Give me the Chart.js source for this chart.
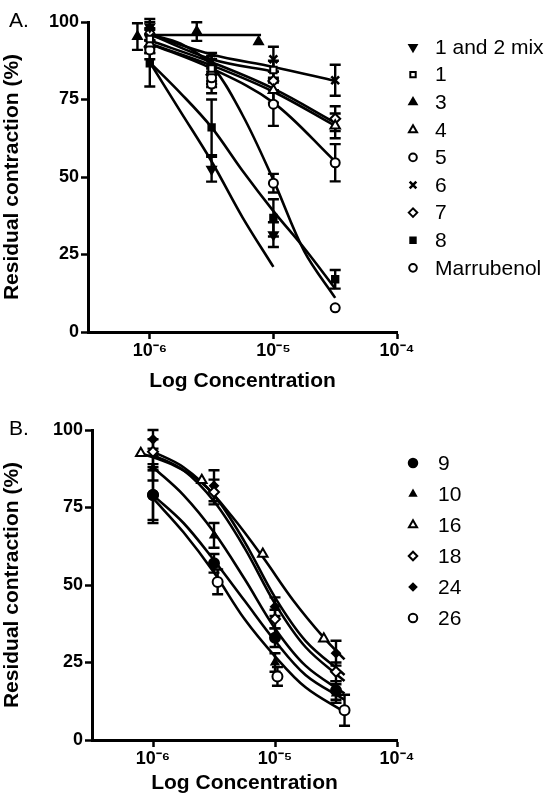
<!DOCTYPE html>
<html><head><meta charset="utf-8">
<script src="https://cdn.jsdelivr.net/npm/chart.js@4/dist/chart.umd.min.js"></script>
<style>
html,body{margin:0;padding:0;background:#fff;width:555px;height:802px;overflow:hidden}
.wrap{position:absolute;left:0;width:555px}
#wa{top:0;height:400px} #wb{top:400px;height:402px}
.panel{position:absolute;left:9px;font:21px "Liberation Sans",Arial,sans-serif;color:#000}
</style></head><body>
<div class="wrap" id="wa"><canvas id="ca" width="555" height="400"></canvas></div>
<div class="wrap" id="wb"><canvas id="cb" width="555" height="402"></canvas></div>
<div class="panel" style="top:8px">A.</div>
<div class="panel" style="top:416px">B.</div>
<script>
// ---------- shared ticks ----------
const xTickValues = [-6, -5, -4];
const xTickLabels = ['10\u207B\u2076', '10\u207B\u2075', '10\u207B\u2074'];
const yTickValues = [0, 25, 50, 75, 100];

// ---------- Panel A: data points (log10 concentration, % residual contraction, SEM) ----------
const legendA = ['1 and 2 mix', '1', '3', '4', '5', '6', '7', '8', 'Marrubenol'];
const xA = [-6, -5.5, -5, -4.5];
const mixX = [-6, -5.5, -5];
const mixY = [98.5, 52.5, 31.4];
const mixErr = [2.5, 4, 4];
const c1X = [-6, -5.5, -5];
const c1Y = [94.5, 85, 84.5];
const c1Err = [3, 4, 3];
const c3X = [-6.1, -5.62, -5.12];
const c3Y = [95.3, 96.9, 93.6];
const c3Err = [4.3, 3, 0];
const c4Y = [93, 84, 78, 66.5];
const c4Err = [3, 4, 4, 4];
const c5Y = [91, 82, 73.5, 54.6];
const c5Err = [3, 3, 7, 6];
const c6Y = [95, 87, 88, 81.2];
const c6Err = [3, 3, 4, 5];
const c7Y = [92, 83, 81, 68.8];
const c7Err = [2, 3, 3, 4];
const c8Y = [86.7, 66, 36.8, 17];
const c8Err = [7.5, 9, 6, 3];
const marrY = [96, 80, 48, 7.8];
const marrErr = [4, 3, 3, 0];

// Panel A fitted curves
const fitXA = [-6, -5.75, -5.5, -5.25, -5, -4.75, -4.5];
const mixFitX = [-6, -5.75, -5.5, -5.25, -5];
const mixFitY = [87, 71, 55, 37, 21];
const c1FitX = [-6, -5.5, -5];
const c1FitY = [96, 88, 84];
const c3FitX = [-6, -5.1];
const c3FitY = [95.8, 95.8];
const c4FitY = [94, 87, 78.5, 67.5];
const c5FitY = [93, 85, 74, 55];
const c6FitY = [96, 89.5, 85.5, 81];
const c7FitY = [93, 86, 77.5, 66.5];
const c8FitY = [87, 77, 66, 52, 39, 27, 14];
const marrFitY = [96, 93, 86, 70, 49, 26, 11];

// ---------- Panel B ----------
const legendB = ['9', '10', '16', '18', '24', '26'];
const xB = [-6, -5.5, -5, -4.5];
const s9Y = [79, 57, 33, 16];
const s9Err = [9, 3, 3, 3];
const s10Y = [87.7, 66, 25, 15];
const s10Err = [4, 4, 3, 3];
const s16X = [-6.1, -5.6, -5.1, -4.6];
const s16Y = [92.5, 83.8, 60, 32.7];
const s16Err = [0, 0, 0, 0];
const s18Y = [93, 80, 39, 22];
const s18Err = [4, 4, 3, 3];
const s24Y = [97, 82, 43, 28];
const s24Err = [3, 5, 3, 4];
const s26X = [-6, -5.47, -4.98, -4.43];
const s26Y = [79, 51, 20.5, 9.6];
const s26Err = [8, 4, 3, 5];

const fitXB = [-6, -5.75, -5.5, -5.25, -5, -4.75, -4.43];
const s9FitY = [79, 70, 58, 45, 32, 21, 13];
const s10FitY = [88, 79, 67, 52, 36, 24, 15];
const s16FitX = [-6.1, -5.85, -5.6, -5.35, -5.1, -4.85, -4.6, -4.43];
const s16FitY = [92.5, 89, 83, 72, 59, 45, 33, 26];
const s18FitY = [93, 88, 79, 64, 46, 32, 21];
const s24FitY = [92, 87, 77, 62, 44, 30, 19];
const s26FitY = [78, 67, 54, 39, 27, 17, 9];

// ---------- helpers ----------
const FONT = '"Liberation Sans", Arial, sans-serif';
const pts = (xs, ys) => ys.map((y, i) => ({x: xs[i], y: y}));

function marker(label, xs, ys, errs, style) {
  return Object.assign({
    type: 'scatter', label: label, data: pts(xs, ys), errs: errs, showLine: false,
    borderColor: '#000', pointBorderColor: '#000', pointBorderWidth: 2,
    pointRadius: 4.5, pointHoverRadius: 4.5, order: 0, isMarker: true
  }, style);
}
function fit(xs, ys) {
  return {
    type: 'scatter', data: pts(xs, ys), showLine: true, fill: false,
    borderColor: '#000', borderWidth: 2.6, pointRadius: 0, pointHoverRadius: 0,
    tension: 0.35, order: 1, isFit: true
  };
}

const errorBars = {
  id: 'errorBars',
  beforeDatasetsDraw(chart) {
    const ctx = chart.ctx, xs = chart.scales.x, ys = chart.scales.y;
    ctx.save();
    ctx.strokeStyle = '#000';
    ctx.lineWidth = 2.4;
    chart.data.datasets.forEach(ds => {
      if (!ds.errs) return;
      ds.data.forEach((p, i) => {
        const e = ds.errs[i];
        if (!e) return;
        const px = xs.getPixelForValue(p.x);
        const y1 = ys.getPixelForValue(p.y + e), y2 = ys.getPixelForValue(p.y - e);
        ctx.beginPath();
        ctx.moveTo(px, y1); ctx.lineTo(px, y2);
        ctx.moveTo(px - 5.5, y1); ctx.lineTo(px + 5.5, y1);
        ctx.moveTo(px - 5.5, y2); ctx.lineTo(px + 5.5, y2);
        ctx.stroke();
      });
    });
    ctx.restore();
  }
};

const sideLegend = {
  id: 'sideLegend',
  afterDraw(chart, args, opts) {
    const ctx = chart.ctx;
    const items = chart.data.datasets.filter(d => d.isMarker);
    ctx.save();
    ctx.font = opts.fontSize + 'px ' + FONT;
    ctx.textBaseline = 'middle';
    items.forEach((d, i) => {
      const y = opts.y0 + i * opts.dy;
      const st = {
        pointStyle: d.pointStyle, rotation: d.rotation || 0,
        radius: (d.pointRadius || 4.5) * 0.85, borderWidth: d.pointBorderWidth
      };
      ctx.fillStyle = d.pointBackgroundColor;
      ctx.strokeStyle = '#000';
      ctx.lineWidth = d.pointBorderWidth;
      Chart.helpers.drawPoint(ctx, st, opts.symX, y);
      ctx.fillStyle = '#000';
      ctx.fillText(d.label, opts.textX, y + 1);
    });
    ctx.restore();
  }
};

function scalesFor(yWidth, xHeight) {
  return {
    x: {
      type: 'linear', min: -6.5, max: -4,
      afterBuildTicks: s => { s.ticks = xTickValues.map(v => ({value: v})); },
      afterFit: s => { s.height = xHeight; },
      ticks: {
        color: '#000', padding: 1, maxRotation: 0, autoSkip: false,
        font: {family: FONT, size: 18, weight: 'bold'},
        callback: v => xTickLabels[xTickValues.indexOf(v)]
      },
      grid: {drawOnChartArea: false, drawTicks: true, tickLength: 7, tickWidth: 2.5, tickColor: '#000'},
      border: {display: true, width: 3, color: '#000'},
      title: {display: true, text: 'Log Concentration', color: '#000',
        font: {family: FONT, size: 21, weight: 'bold'}, padding: {top: 8, bottom: 0}}
    },
    y: {
      type: 'linear', min: 0, max: 100,
      afterBuildTicks: s => { s.ticks = yTickValues.map(v => ({value: v})); },
      afterFit: s => { s.width = yWidth; },
      ticks: {color: '#000', padding: 2, font: {family: FONT, size: 18, weight: 'bold'}},
      grid: {drawOnChartArea: false, drawTicks: true, tickLength: 7, tickWidth: 2.5, tickColor: '#000'},
      border: {display: true, width: 3, color: '#000'},
      title: {display: true, text: 'Residual contraction (%)', color: '#000',
        font: {family: FONT, size: 21, weight: 'bold'}, padding: {top: 0, bottom: 2}}
    }
  };
}

const baseOpts = (yWidth, xHeight, pad, legendOpts) => ({
  responsive: false, animation: false, devicePixelRatio: 1,
  layout: {padding: pad},
  plugins: {legend: {display: false}, tooltip: {enabled: false}, sideLegend: legendOpts},
  events: [],
  scales: scalesFor(yWidth, xHeight)
});

const OPEN = '#fff', FILL = '#000';

// ---------- Chart A ----------
const dsA = [
  marker(legendA[0], mixX, mixY, mixErr, {pointStyle: 'triangle', rotation: 180, pointBackgroundColor: FILL, pointRadius: 5}),
  marker(legendA[1], c1X, c1Y, c1Err, {pointStyle: 'rect', pointBackgroundColor: OPEN, pointRadius: 4.5}),
  marker(legendA[2], c3X, c3Y, c3Err, {pointStyle: 'triangle', pointBackgroundColor: FILL, pointRadius: 5}),
  marker(legendA[3], xA, c4Y, c4Err, {pointStyle: 'triangle', pointBackgroundColor: OPEN, pointRadius: 5.5}),
  marker(legendA[4], xA, c5Y, c5Err, {pointStyle: 'circle', pointBackgroundColor: OPEN, pointRadius: 4.5}),
  marker(legendA[5], xA, c6Y, c6Err, {pointStyle: 'crossRot', pointBackgroundColor: OPEN, pointRadius: 5.5, pointBorderWidth: 2.6}),
  marker(legendA[6], xA, c7Y, c7Err, {pointStyle: 'rectRot', pointBackgroundColor: OPEN, pointRadius: 5}),
  marker(legendA[7], xA, c8Y, c8Err, {pointStyle: 'rect', pointBackgroundColor: FILL, pointRadius: 4.5}),
  marker(legendA[8], xA, marrY, marrErr, {pointStyle: 'circle', pointBackgroundColor: OPEN, pointRadius: 4.5}),
  fit(mixFitX, mixFitY), fit(c1FitX, c1FitY), fit(c3FitX, c3FitY), fit(xA, c4FitY),
  fit(xA, c5FitY), fit(xA, c6FitY), fit(xA, c7FitY), fit(fitXA, c8FitY), fit(fitXA, marrFitY)
];

new Chart(document.getElementById('ca'), {
  type: 'scatter',
  data: {datasets: dsA},
  options: baseOpts(88, 62, {top: 22, right: 158, left: 0, bottom: 6},
    {symX: 413, textX: 435, y0: 47, dy: 27.6, fontSize: 21}),
  plugins: [errorBars, sideLegend]
});

// ---------- Chart B ----------
const dsB = [
  marker(legendB[0], xB, s9Y, s9Err, {pointStyle: 'circle', pointBackgroundColor: FILL, pointRadius: 5}),
  marker(legendB[1], xB, s10Y, s10Err, {pointStyle: 'triangle', pointBackgroundColor: FILL, pointRadius: 4}),
  marker(legendB[2], s16X, s16Y, s16Err, {pointStyle: 'triangle', pointBackgroundColor: OPEN, pointRadius: 5.5}),
  marker(legendB[3], xB, s18Y, s18Err, {pointStyle: 'rectRot', pointBackgroundColor: OPEN, pointRadius: 5}),
  marker(legendB[4], xB, s24Y, s24Err, {pointStyle: 'rectRot', pointBackgroundColor: FILL, pointRadius: 4}),
  marker(legendB[5], s26X, s26Y, s26Err, {pointStyle: 'circle', pointBackgroundColor: OPEN, pointRadius: 5}),
  fit(fitXB, s9FitY), fit(fitXB, s10FitY), fit(s16FitX, s16FitY),
  fit(fitXB, s18FitY), fit(fitXB, s24FitY), fit(fitXB, s26FitY)
];

new Chart(document.getElementById('cb'), {
  type: 'scatter',
  data: {datasets: dsB},
  options: baseOpts(92, 56, {top: 30, right: 158, left: 0, bottom: 6},
    {symX: 413, textX: 438, y0: 63, dy: 31, fontSize: 21}),
  plugins: [errorBars, sideLegend]
});
</script>
</body></html>
